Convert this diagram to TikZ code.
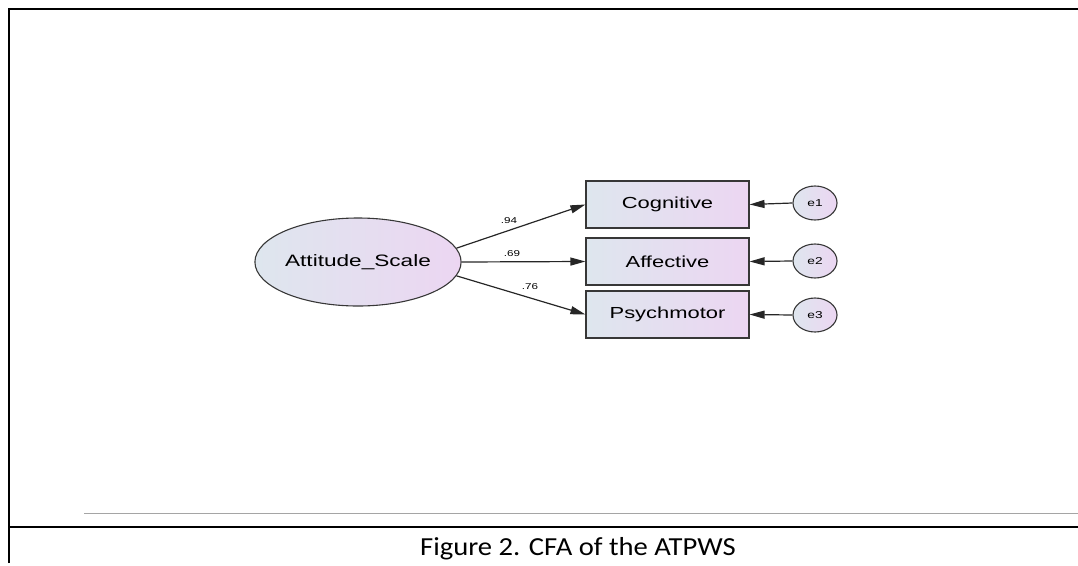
\documentclass[tikz,border=0pt]{standalone}
\usepackage{fontspec}
\setmainfont{Liberation Sans}
\newfontfamily\diagfont[FakeStretch=1.37]{Liberation Sans}
\newfontfamily\capfont[FakeStretch=1.1]{Carlito}
\usetikzlibrary{arrows.meta,shapes.geometric}
\definecolor{lblue}{RGB}{222,230,238}
\definecolor{lpink}{RGB}{236,214,242}
\definecolor{edgec}{RGB}{55,55,55}
\definecolor{rulegray}{RGB}{165,165,165}
\begin{document}
\begin{tikzpicture}[x=1pt,y=-1pt,
  obs/.style={draw=edgec,line width=1.1pt,left color=lblue,right color=lpink,
    minimum width=163pt,minimum height=47pt,inner sep=0pt,
    font=\diagfont\fontsize{16}{18}\selectfont},
  lat/.style={ellipse,draw=edgec,line width=1.1pt,left color=lblue,right color=lpink,
    minimum width=200pt,minimum height=88pt,inner sep=0pt,
    font=\diagfont\fontsize{16.5}{18}\selectfont},
  err/.style={ellipse,draw=edgec,line width=1.1pt,left color=lblue,right color=lpink,
    minimum width=44pt,minimum height=34pt,inner sep=0pt,
    font=\diagfont\fontsize{10}{12}\selectfont},
  sem/.style={-{Triangle[length=15pt,width=8pt]},line width=1.2pt,draw=black!85},
  coef/.style={font=\diagfont\fontsize{8.5}{10}\selectfont,inner sep=0pt},
  frameline/.style={line width=2pt,black}
]
\useasboundingbox (0,0) rectangle (1078,565);
% frame
\draw[frameline] (9,563) -- (9,9) -- (1078,9);
\draw[frameline] (9,527) -- (1078,527);
\draw[line width=1pt,rulegray] (84,513) -- (1078,513);

% nodes
\node[lat] (att) at (358,262) {Attitude\_Scale};
\node[obs] (cog) at (667.5,204.5) {Cognitive};
\node[obs] (aff) at (667.5,261.5) {Affective};
\node[obs] (psy) at (667.5,314.5) {Psychmotor};
\node[err] (e1) at (815,203) {e1};
\node[err] (e2) at (815,261) {e2};
\node[err] (e3) at (815,315) {e3};

% paths
\draw[sem] (att.8) -- (cog.west);
\draw[sem] (att.east) -- (aff.west);
\draw[sem] (att.-8) -- (psy.west);
\draw[sem] (e1.west) -- (cog.east);
\draw[sem] (e2.west) -- (aff.east);
\draw[sem] (e3.west) -- (psy.east);

% coefficients
\node[coef] (c1) at (509,221) {.94};
\node[coef] (c2) at (512,254) {.69};
\node[coef] (c3) at (530,287) {.76};

% caption
\node[font=\capfont\fontsize{26}{30}\selectfont,anchor=base,inner sep=0pt] (cap) at (578,555) {Figure 2. CFA of the ATPWS};
\end{tikzpicture}
\end{document}
